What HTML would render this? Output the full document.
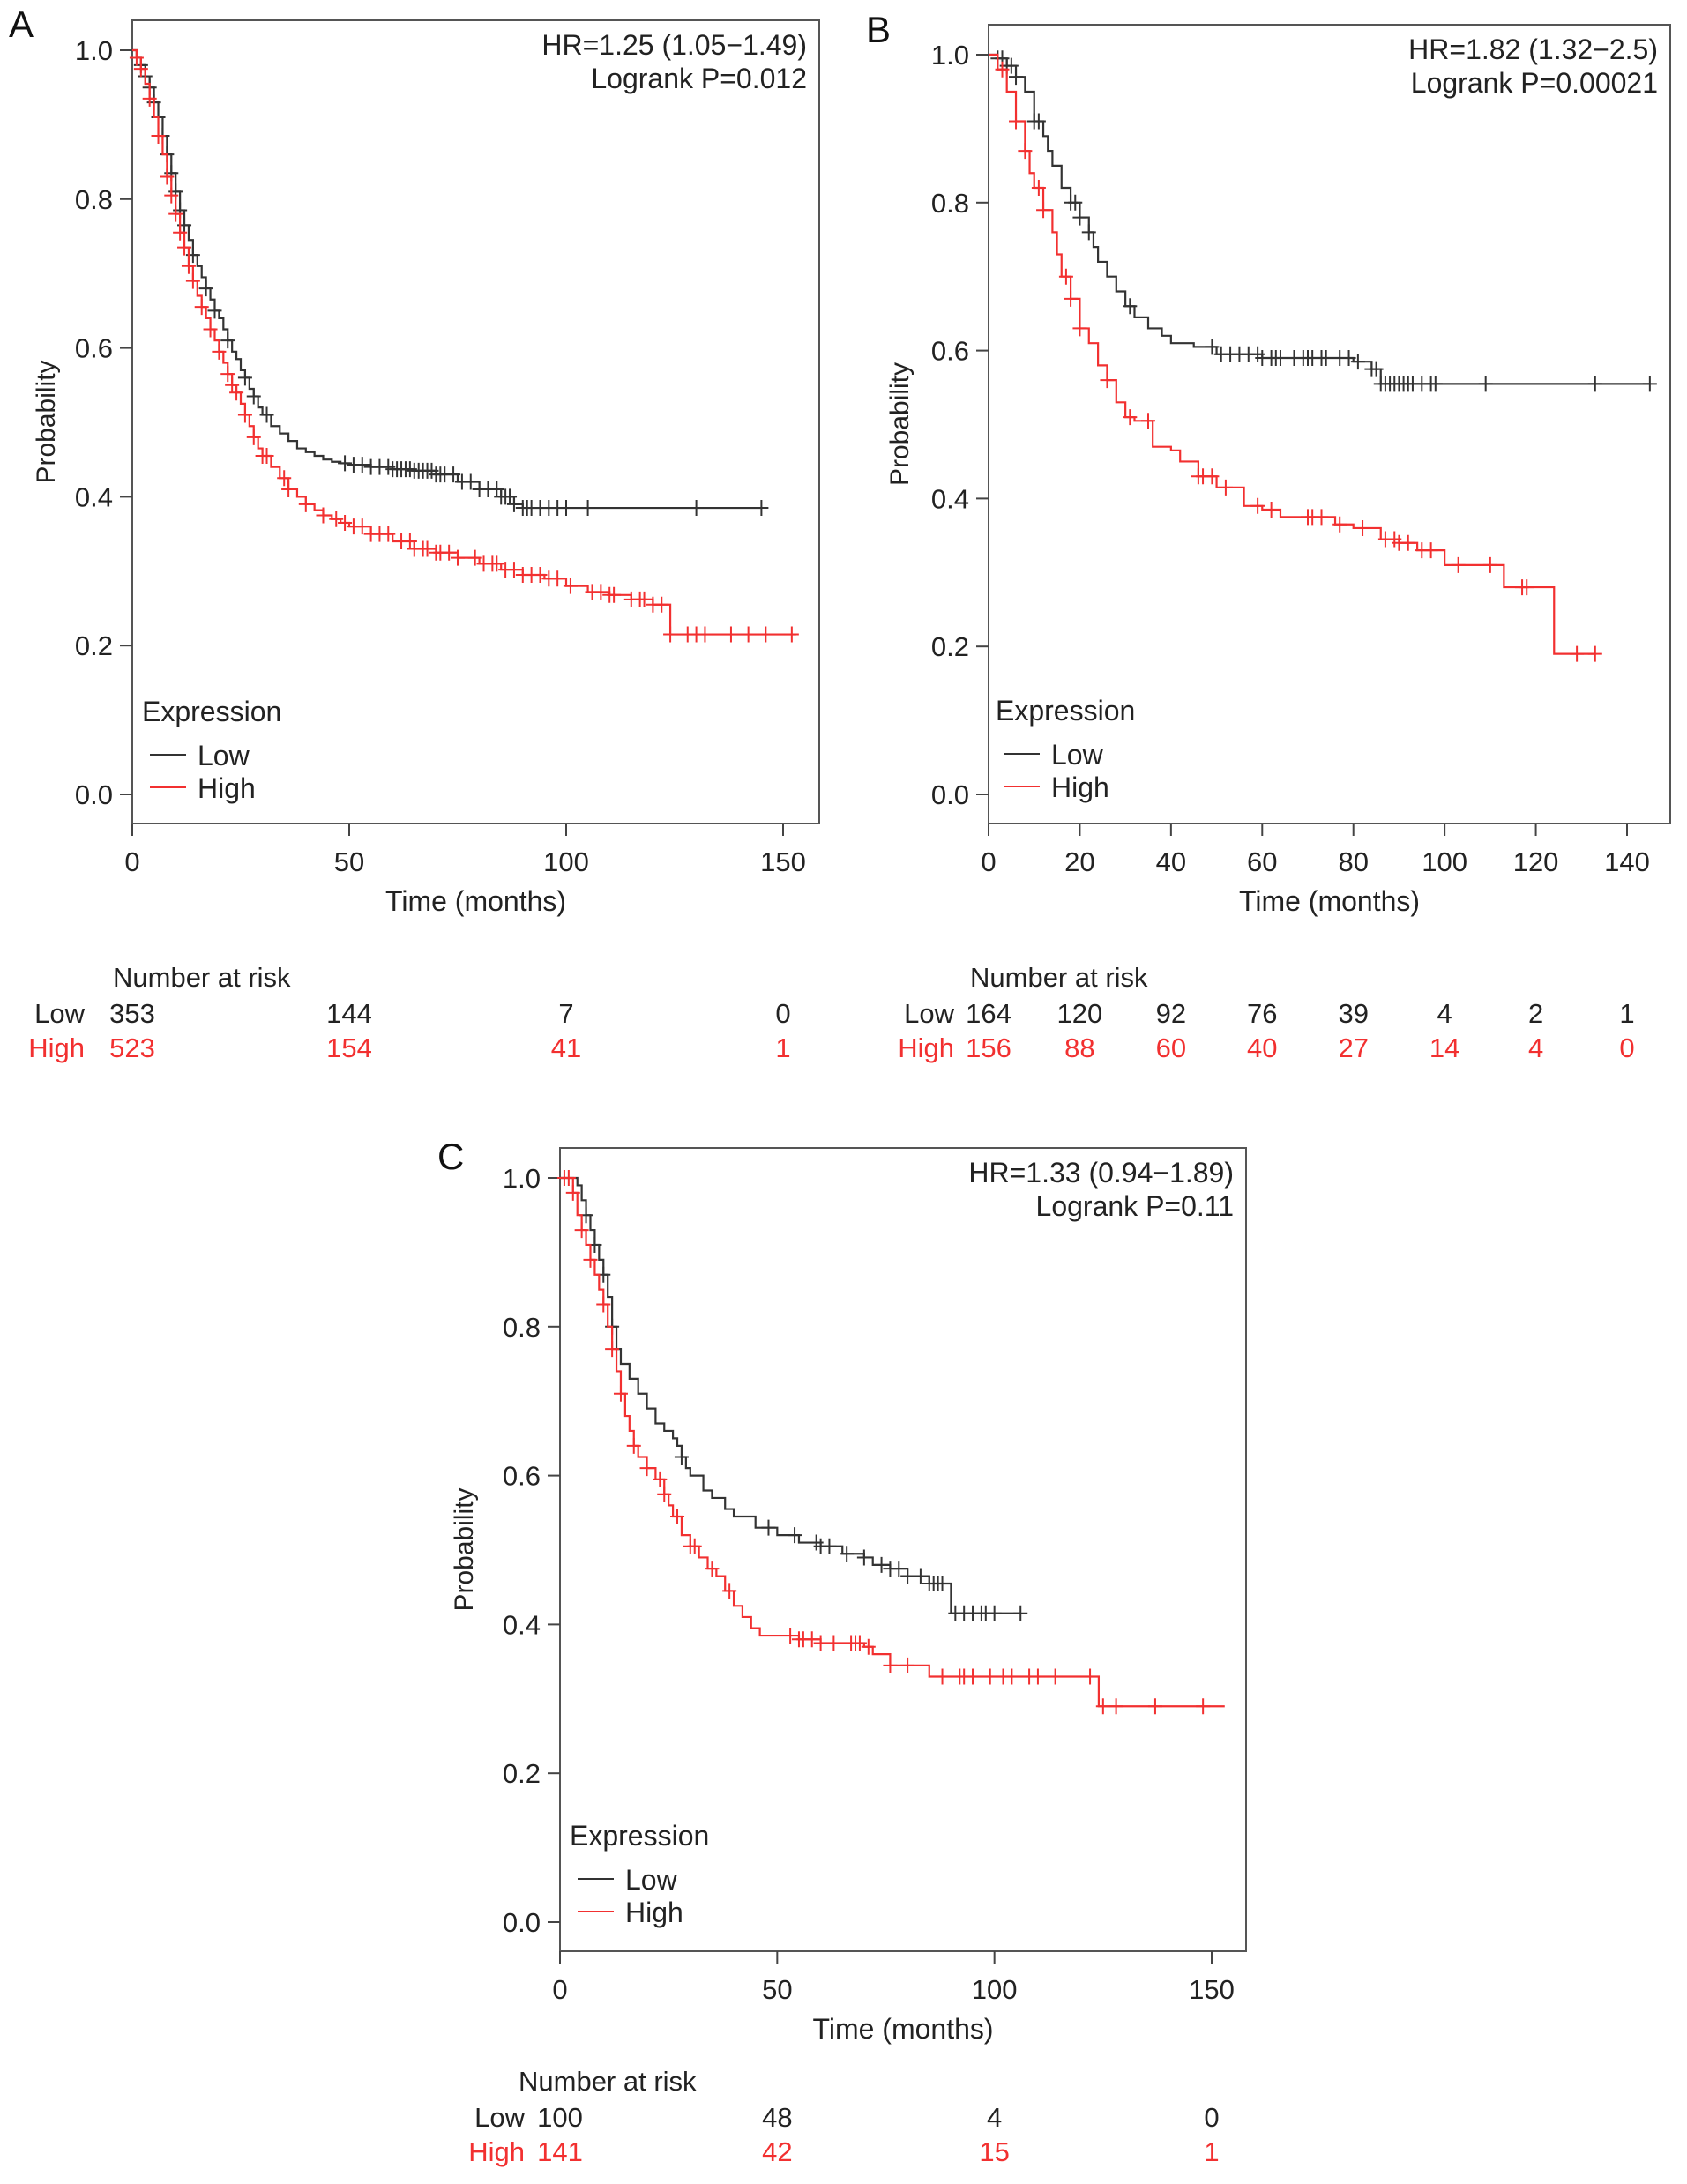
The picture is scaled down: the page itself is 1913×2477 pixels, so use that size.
<!DOCTYPE html>
<html><head><meta charset="utf-8">
<style>
html,body{margin:0;padding:0;background:#fff;}
svg{display:block;font-family:"Liberation Sans",Arial,sans-serif;}
</style></head>
<body>
<svg id="fig" width="1913" height="2477" viewBox="0 0 1913 2477"></svg>
<script>
// ---------- Panel A data ----------
const aLowT=[0,1,2,3,4,5,6,7,8,9,10,11,12,13,14,15,16,17,18,19,20,21,22,23,24,25,26,27,28,29,30,32,34,36,38,40,42,44,46,48,50,55,60,65,70,75,80,85,88,90,145];
const aLowS=[1.0,0.99,0.98,0.965,0.95,0.93,0.91,0.885,0.86,0.835,0.81,0.785,0.765,0.745,0.725,0.71,0.695,0.68,0.665,0.65,0.64,0.625,0.61,0.595,0.585,0.57,0.56,0.545,0.535,0.52,0.51,0.495,0.485,0.475,0.465,0.46,0.455,0.45,0.447,0.445,0.443,0.44,0.437,0.435,0.43,0.42,0.41,0.40,0.39,0.385,0.385];
const aHighT=[0,1,2,3,4,5,6,7,8,9,10,11,12,13,14,15,16,17,18,19,20,21,22,23,24,25,26,27,28,29,30,32,34,36,38,40,42,44,46,48,50,55,60,65,70,75,80,85,90,95,100,105,110,115,120,124,153];
const aHighS=[1.0,0.99,0.975,0.955,0.935,0.91,0.885,0.86,0.83,0.805,0.78,0.755,0.735,0.71,0.69,0.67,0.655,0.64,0.625,0.61,0.595,0.58,0.565,0.55,0.54,0.525,0.51,0.495,0.48,0.465,0.455,0.44,0.425,0.41,0.40,0.39,0.382,0.375,0.37,0.365,0.36,0.35,0.34,0.33,0.325,0.318,0.31,0.302,0.295,0.29,0.28,0.272,0.268,0.262,0.255,0.215,0.215];
const aLowCens=[2,3,4,5,6,7,8,9,10,11,12,14,17,19,22,26,28,31,49,51,53,55,57,59,60,61,62,63,64,65,66,67,68,69,70,71,72,74,76,78,80,82,84,85,86,87,88,90,91,92,94,96,98,100,105,130,145];
const aHighCens=[1,2,4,6,8,9,10,11,12,13,14,16,18,20,22,23,24,26,28,30,31,35,36,40,44,47,49,51,53,55,57,59,62,64,65,67,68,70,71,73,75,79,81,83,84,86,88,90,92,94,96,98,101,106,108,110,111,115,117,118,120,122,124,128,130,132,138,142,146,152];
const aXTicks=[0,50,100,150];
const aRiskLow=["353","144","7","0"];
const aRiskHigh=["523","154","41","1"];
// ---------- Panel B data ----------
const bLowT=[0,2,4,6,8,10,12,13,14,16,18,20,22,23,24,26,28,30,32,35,38,40,45,50,60,70,80,84,86,145];
const bLowS=[1,0.995,0.985,0.97,0.95,0.91,0.89,0.87,0.85,0.82,0.80,0.78,0.76,0.74,0.72,0.70,0.68,0.66,0.645,0.63,0.62,0.61,0.605,0.595,0.59,0.59,0.585,0.575,0.555,0.555];
const bHighT=[0,2,4,6,8,9,10,12,14,15,16,18,20,22,24,26,28,30,32,36,40,42,46,50,56,60,64,70,76,80,86,90,94,100,110,113,124,133];
const bHighS=[1,0.98,0.95,0.91,0.87,0.84,0.82,0.79,0.76,0.73,0.70,0.67,0.63,0.61,0.58,0.56,0.53,0.51,0.505,0.47,0.465,0.45,0.43,0.415,0.39,0.385,0.375,0.375,0.365,0.36,0.345,0.34,0.33,0.31,0.31,0.28,0.19,0.19];
const bLowCens=[2,3,4,5,6,10,11,18,19,20,22,31,49,51,53,55,57,59,60,62,63,64,67,69,70,71,73,74,77,79,81,84,85,86,87,88,89,90,91,92,93,95,97,98,109,133,145];
const bHighCens=[3,6,8,11,12,17,18,20,26,31,35,46,47,49,52,59,62,70,71,73,77,82,87,89,90,92,95,97,103,110,117,118,129,133];
const bXTicks=[0,20,40,60,80,100,120,140];
const bRiskLow=["164","120","92","76","39","4","2","1"];
const bRiskHigh=["156","88","60","40","27","14","4","0"];
// ---------- Panel C data ----------
const cLowT=[0,4,5,6,7,8,9,10,11,12,13,14,16,18,20,22,24,26,27,28,29,30,33,35,38,40,45,50,55,60,65,70,72,76,80,85,90,106];
const cLowS=[1,0.99,0.97,0.95,0.93,0.91,0.89,0.87,0.84,0.80,0.77,0.75,0.73,0.71,0.69,0.67,0.66,0.65,0.64,0.625,0.61,0.60,0.58,0.57,0.555,0.545,0.53,0.52,0.51,0.505,0.495,0.49,0.48,0.475,0.465,0.455,0.415,0.415];
const cHighT=[0,3,4,5,6,7,8,9,10,11,12,13,14,15,16,17,18,20,22,24,25,26,28,30,32,34,36,38,40,42,44,46,55,60,70,72,76,85,124,153];
const cHighS=[1,0.98,0.95,0.93,0.91,0.89,0.87,0.85,0.83,0.80,0.77,0.74,0.71,0.68,0.66,0.64,0.625,0.61,0.595,0.575,0.56,0.545,0.52,0.505,0.49,0.475,0.465,0.445,0.425,0.41,0.395,0.385,0.38,0.375,0.37,0.36,0.345,0.33,0.29,0.29];
const cLowCens=[6,8,10,12,28,48,54,59,60,62,66,70,74,76,78,80,83,85,86,87,88,91,93,95,97,98,100,106];
const cHighCens=[1,2,3,5,7,10,12,14,17,20,23,24,27,30,31,35,39,53,55,56,58,60,63,67,68,69,71,76,80,88,92,93,95,99,102,104,108,110,114,122,125,128,137,148];
const cXTicks=[0,50,100,150];
const cRiskLow=["100","48","4","0"];
const cRiskHigh=["141","42","15","1"];
const yTicks=[0,0.2,0.4,0.6,0.8,1.0];

const NS="http://www.w3.org/2000/svg";
const fig=document.getElementById('fig');
const BLACK="#333", RED="#f23030";
function mk(tag,attrs,parent){const e=document.createElementNS(NS,tag);for(const k in attrs)e.setAttribute(k,attrs[k]);(parent||fig).appendChild(e);return e;}
function txt(s,x,y,size,anchor,fill,parent){const t=mk('text',{x:x,y:y,'font-size':size,'text-anchor':anchor||'start',fill:fill||'#111'},parent);t.textContent=s;return t;}

function panel(P){
  const g=mk('g',{});
  
  
  const sx=t=>P.x0+(t-0)*(P.xmaxPx-P.x0)/P.xmax;
  const sy=v=>P.y0-v*(P.y0-P.y1);
  const box=mk('rect',{x:P.bl,y:P.bt,width:P.br-P.bl,height:P.bb-P.bt,fill:'none',stroke:'#555','stroke-width':2},g);
  
  
  const lt=txt(P.letter,P.lx,P.ly,42,'start','#111',g);
  
  
  yTicks.forEach(v=>{
    mk('line',{x1:P.bl-14,x2:P.bl,y1:sy(v),y2:sy(v),stroke:'#444','stroke-width':2},g);
    const t=txt(v.toFixed(1),P.bl-22,sy(v)+11,31,'end','#222',g);
    
    
  });
  P.xticks.forEach(v=>{
    mk('line',{x1:sx(v),x2:sx(v),y1:P.bb,y2:P.bb+14,stroke:'#444','stroke-width':2},g);
    const t=txt(String(v),sx(v),P.bb+54,31,'middle','#222',g);
    
    
  });
  const xt=txt('Time (months)',(P.bl+P.br)/2,P.bb+99,32,'middle','#222',g);
  
  
  const yt=mk('text',{x:0,y:0,'font-size':30,'text-anchor':'middle',fill:'#222',transform:`translate(${P.ylx},${(P.bt+P.bb)/2}) rotate(-90)`},g);
  yt.textContent='Probability';
  
  
  const h1=txt(P.hr,P.br-14,P.bt+39,32,'end','#222',g);
  
  
  const h2=txt(P.p,P.br-14,P.bt+77,32,'end','#222',g);
  
  
  function curve(T,S,cens,color,name){
    let d=`M${sx(T[0])},${sy(S[0])}`;
    for(let i=1;i<T.length;i++){d+=` H${sx(T[i])} V${sy(S[i])}`;}
    const p=mk('path',{d:d,fill:'none',stroke:color,'stroke-width':2.2},g);
    
    
    const stepAt=t=>{let v=S[0];for(let i=0;i<T.length;i++){if(T[i]<=t)v=S[i];}return v;};
    cens.forEach(c=>{
      const x=sx(c),y=sy(stepAt(c));
      const m=mk('path',{d:`M${x-8},${y} H${x+8} M${x},${y-9} V${y+9}`,stroke:color,'stroke-width':2,fill:'none'},g);
      
      
    });
  }
  curve(P.lowT,P.lowS,P.lowC,BLACK,'low');
  curve(P.highT,P.highS,P.highC,RED,'high');
  const lg=mk('g',{},g);
  
  
  txt('Expression',P.legX,P.legY,32,'start','#222',lg);
  mk('line',{x1:P.legX+9,x2:P.legX+50,y1:P.legY+38,y2:P.legY+38,stroke:BLACK,'stroke-width':2},lg);
  const l1=txt('Low',P.legX+63,P.legY+50,32,'start','#222',lg);
  
  
  mk('line',{x1:P.legX+9,x2:P.legX+50,y1:P.legY+75,y2:P.legY+75,stroke:RED,'stroke-width':2},lg);
  const l2=txt('High',P.legX+63,P.legY+87,32,'start','#222',lg);
  
  
  const rt=mk('g',{},g);
  
  
  txt('Number at risk',P.riskTitleX,P.riskY,31,'start','#222',rt);
  txt('Low',P.riskLabX,P.riskY+41,31,'end','#222',rt);
  txt('High',P.riskLabX,P.riskY+80,31,'end',RED,rt);
  P.xticks.forEach((v,i)=>{
    txt(P.rl[i],sx(v),P.riskY+41,31,'middle','#222',rt);
    txt(P.rh[i],sx(v),P.riskY+80,31,'middle',RED,rt);
  });
}

panel({id:'a',letter:'A',lx:10,ly:42,bl:150,br:929,bt:23,bb:934,x0:150,xmax:150,xmaxPx:888,y0:901,y1:57,
  xticks:aXTicks,hr:'HR=1.25 (1.05\u22121.49)',p:'Logrank P=0.012',ylx:62,
  lowT:aLowT,lowS:aLowS,lowC:aLowCens,highT:aHighT,highS:aHighS,highC:aHighCens,
  legX:161,legY:818,riskTitleX:128,riskY:1119,riskLabX:96,rl:aRiskLow,rh:aRiskHigh});
panel({id:'b',letter:'B',lx:982,ly:48,bl:1121,br:1894,bt:28,bb:934,x0:1121,xmax:140,xmaxPx:1845,y0:901,y1:62,
  xticks:bXTicks,hr:'HR=1.82 (1.32\u22122.5)',p:'Logrank P=0.00021',ylx:1030,
  lowT:bLowT,lowS:bLowS,lowC:bLowCens,highT:bHighT,highS:bHighS,highC:bHighCens,
  legX:1129,legY:817,riskTitleX:1100,riskY:1119,riskLabX:1082,rl:bRiskLow,rh:bRiskHigh});
panel({id:'c',letter:'C',lx:496,ly:1326,bl:635,br:1413,bt:1302,bb:2213,x0:635,xmax:150,xmaxPx:1374,y0:2180,y1:1336,
  xticks:cXTicks,hr:'HR=1.33 (0.94\u22121.89)',p:'Logrank P=0.11',ylx:536,
  lowT:cLowT,lowS:cLowS,lowC:cLowCens,highT:cHighT,highS:cHighS,highC:cHighCens,
  legX:646,legY:2093,riskTitleX:588,riskY:2371,riskLabX:595,rl:cRiskLow,rh:cRiskHigh});
</script>
</body></html>
